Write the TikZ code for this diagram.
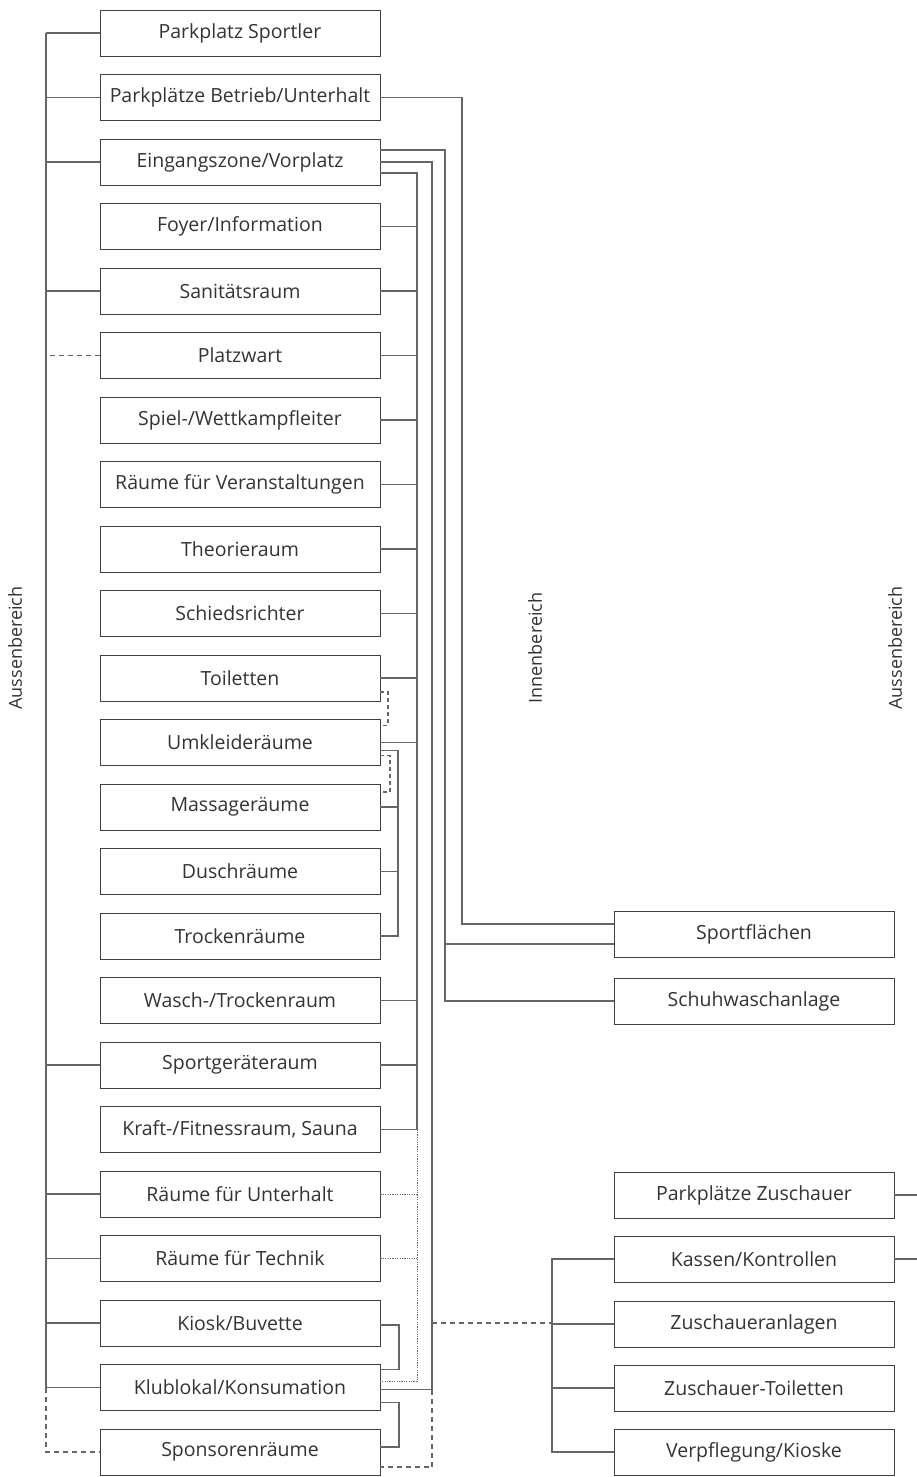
\documentclass[tikz,border=0pt]{standalone}
\usepackage{fontspec}
\setmainfont{Open Sans}
\begin{document}
\begin{tikzpicture}[x=1pt,y=-1pt,
  box/.style={draw=black!75,line width=0.9pt,minimum width=280pt,minimum height=46pt,inner sep=0pt,font=\fontsize{19.5}{22}\selectfont,text=black!80},
  conn/.style={draw=black!60,line width=1.1pt},
  dsh/.style={conn,dash pattern=on 5pt off 4pt},
  dot/.style={conn,line width=1pt,dash pattern=on 1.2pt off 1.2pt},
  lab/.style={rotate=90,font=\fontsize{18}{20}\selectfont,text=black!80}]
\useasboundingbox (0,0) rectangle (917,1477);
\coordinate (LB) at (46,0);
\coordinate (IB) at (417,0);
\coordinate (MB) at (432,0);
\coordinate (SB) at (445,0);
\coordinate (PB) at (462,0);
\coordinate (UB) at (398,0);
\coordinate (ZB) at (552,0);
\coordinate (RE) at (917,0);
\foreach \t [count=\i] in {Parkplatz Sportler,Parkplätze Betrieb/Unterhalt,Eingangszone/Vorplatz,Foyer/Information,Sanitätsraum,Platzwart,Spiel-/Wettkampfleiter,Räume für Veranstaltungen,Theorieraum,Schiedsrichter,Toiletten,Umkleideräume,Massageräume,Duschräume,Trockenräume,Wasch-/Trockenraum,Sportgeräteraum,{Kraft-/Fitnessraum, Sauna},Räume für Unterhalt,Räume für Technik,Kiosk/Buvette,Klublokal/Konsumation,Sponsorenräume}
  \node[box] (l\i) at (240,{33+64.5*(\i-1)}) {\t};
\node[box] (r1) at (754,934) {Sportflächen};
\node[box] (r2) at (754,1001) {Schuhwaschanlage};
\node[box] (r3) at (754,1195) {Parkplätze Zuschauer};
\node[box] (r4) at (754,1259) {Kassen/Kontrollen};
\node[box] (r5) at (754,1324) {Zuschaueranlagen};
\node[box] (r6) at (754,1388) {Zuschauer-Toiletten};
\node[box] (r7) at (754,1452) {Verpflegung/Kioske};
\node[lab] (a1) at (15,648) {Aussenbereich};
\node[lab] (a2) at (535,648) {Innenbereich};
\node[lab] (a3) at (895,648) {Aussenbereich};
% left bus
\draw[conn] (l1.west -| LB) -- (l22.west -| LB);
\foreach \i in {1,2,3,5,17,19,20,21,22} \draw[conn] (l\i.west) -- (l\i.west -| LB);
\draw[dsh] (l6.west) -- (l6.west -| LB);
\draw[dsh] (l22.west -| LB) |- (l23.west);
% inner bus
\draw[conn] ([yshift=-11pt]l3.east) -| (l18.east -| IB);
\foreach \i in {4,5,6,7,8,9,10,11,12,16,17,18} \draw[conn] (l\i.east) -- (l\i.east -| IB);
\draw[dot] (l18.east -| IB) -- ([yshift=6pt]l22.east -| IB) -- ([yshift=6pt]l22.east);
\foreach \i in {19,20} \draw[dot] (l\i.east) -- (l\i.east -| IB);
% line to Klublokal / Zuschauer
\draw[conn] (l3.east) -| ([yshift=-2pt]l22.east -| MB) -- ([yshift=-2pt]l22.east);
\draw[dsh] (l21.east -| MB) -- (l21.east -| ZB);
\draw[dsh] ([yshift=-2pt]l22.east -| MB) |- ([yshift=-15pt]l23.east);
% Sportflaechen / Schuhwaschanlage
\draw[conn] ([yshift=12pt]l3.east) -| (r2.west -| SB) -- (r2.west);
\draw[conn] ([yshift=-10pt]r1.west -| SB) -- ([yshift=-10pt]r1.west);
\draw[conn] (l2.east) -| ([yshift=10pt]r1.west -| PB) -- ([yshift=10pt]r1.west);
% Umkleide group
\draw[conn] ([yshift=-8pt]l12.east) -| (l15.east -| UB) -- (l15.east);
\foreach \i in {13,14} \draw[conn] (l\i.east) -- (l\i.east -| UB);
\coordinate (d1) at (388,0);
\coordinate (d2) at (390,0);
\draw[dsh,dash pattern=on 4pt off 3pt] ([yshift=-14pt]l11.east) -| ([yshift=17pt]l12.east -| d1) -- ([yshift=17pt]l12.east);
\draw[dsh,dash pattern=on 4pt off 3pt] ([yshift=-13pt]l12.east) -| ([yshift=15pt]l13.east -| d2) -- ([yshift=15pt]l13.east);
% Kiosk / Klublokal / Sponsoren brackets
\coordinate (KB) at (399,0);
\draw[conn] ([yshift=-2pt]l21.east) -| ([yshift=18pt]l22.east -| KB) -- ([yshift=18pt]l22.east);
\draw[conn] ([yshift=-15pt]l22.east) -| ([yshift=5pt]l23.east -| KB) -- ([yshift=5pt]l23.east);
% Zuschauer
\draw[conn] (r4.west) -| (r7.west -| ZB) -- (r7.west);
\foreach \i in {5,6} \draw[conn] (r\i.west) -- (r\i.west -| ZB);
\draw[conn] (r3.east) -- (r3.east -| RE);
\draw[conn] (r4.east) -- (r4.east -| RE);
\end{tikzpicture}
\end{document}
